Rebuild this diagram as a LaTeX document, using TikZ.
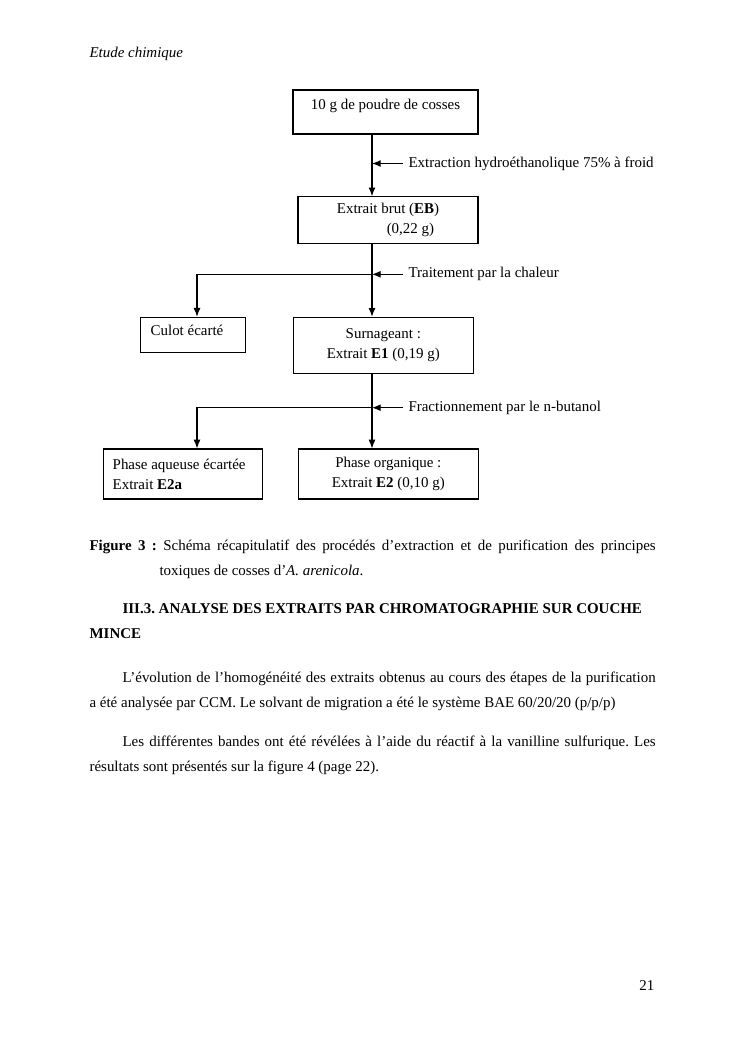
\documentclass[tikz,border=0pt]{standalone}
\usepackage{fontspec}
\setmainfont{Liberation Serif}
\usetikzlibrary{positioning, arrows.meta, calc}

\begin{document}
\begin{tikzpicture}[x=0.2819mm, y=-0.2819mm, line width=0.9pt,
	font=\fontsize{12pt}{16pt}\selectfont\frenchspacing,
	>={Latex[length=7pt,width=5.6pt]},
	etape/.style={draw, rectangle, inner sep=0pt, text centered, align=center},
	operation/.style={anchor=west, inner sep=4pt},
	ligne/.style={anchor=base west, inner sep=0pt},
	texte/.style={anchor=base west, inner sep=0pt, text width=15.96cm, align=justify,
		font=\fontsize{12pt}{20.5pt}\selectfont\frenchspacing}]
		\useasboundingbox (0,0) rectangle (745,1053);
		\fill[white] (0,0) rectangle (745,1053);
		
		\node (Poudre) at (385.5,112) [etape, minimum width=5.215cm, text height=0.536cm, 
		text depth=0.705cm]{10 g de poudre de cosses};
		\node (Extrait Brut) at (388,220.3) [etape, minimum width=5.074cm, minimum 
		height=1.325cm, align=left]{Extrait brut (\textbf{EB})\\\hspace*{40pt}(0,22 g)};
		\node (Culot) at (193.2,334.8) [etape, text width=2.4cm, inner xsep=0.282cm, 
		align=flush left, text height=0.52cm, text depth=0.468cm]{Culot écarté};
		\node (Surnageant) at (383.3,345.3) [etape, minimum width=5.074cm, minimum 
		height=1.579cm]{Surnageant :\\Extrait \textbf{E1} (0,19 g)};
		\node (Phase Aqueuse) at (183,474) [etape, text width=3.964cm, inner xsep=0.265cm, 
		minimum height=1.41cm, align=flush left]{Phase aqueuse écartée\\Extrait \textbf{E2a}};
		\node (Phase Organique) at (388.3,474) [etape, minimum width=5.074cm, minimum 
		height=1.41cm]{Phase organique :\\Extrait \textbf{E2} (0,10 g)};
		
		\node (Extraction) at (403,163.5) [operation]{Extraction hydroéthanolique 75\% à froid};
		\node (Traitement) at (403,274.3) [operation]{Traitement par la chaleur};
		\node (Fractionnement) at (403,407.7) [operation]{Fractionnement par le n-butanol};
		
		\coordinate (j1) at (372,163.5);
		\coordinate (j2) at (372,274.3);
		\coordinate (k2) at (197,274.3);
		\coordinate (j3) at (372,407.7);
		\coordinate (k3) at (197,407.7);
		
		\draw[->] (Poudre.south -| j1) -- (Extrait Brut.north -| j1);
		\draw[->] (Extraction.west) -- (j1);
		\draw[->] (Extrait Brut.south -| j2) -- (Surnageant.north -| j2);
		\draw[->] (Traitement.west) -- (j2);
		\draw[->] (j2) -- (k2) -- (Culot.north -| k2);
		\draw[->] (Surnageant.south -| j3) -- (Phase Organique.north -| j3);
		\draw[->] (Fractionnement.west) -- (j3);
		\draw[->] (j3) -- (k3) -- (Phase Aqueuse.north -| k3);
		
		\node (Entete) at (89,57) [ligne]{\textit{Etude chimique}};
		\node (Legende) at (89,550) [texte]{\textbf{Figure 3 :} Schéma récapitulatif des 
		procédés d’extraction et de purification des principes\linebreak 
		\hspace*{56.1pt}toxiques de cosses d’\textit{A. arenicola}.};
		\node (Titre) at (89,613) [texte, text width=17cm, align=flush left]{\bfseries
		\hspace*{26.5pt}III.3. ANALYSE DES EXTRAITS PAR CHROMATOGRAPHIE SUR COUCHE\\MINCE};
		\node (Paragraphe1) at (89,682) [texte]{\hspace*{26.5pt}L’évolution de l’homogénéité 
		des extraits obtenus au cours des étapes de la purification\linebreak a été analysée 
		par CCM. Le solvant de migration a été le système BAE 60/20/20 (p/p/p)};
		\node (Paragraphe2) at (89,746) [texte]{\hspace*{26.5pt}Les différentes bandes ont été 
		révélées à l’aide du réactif à la vanilline sulfurique. Les\linebreak résultats sont 
		présentés sur la figure 4 (page 22).};
		\node (Page) at (655,990) [anchor=base east, inner sep=0pt]{21};
		\end{tikzpicture}
\end{document}
